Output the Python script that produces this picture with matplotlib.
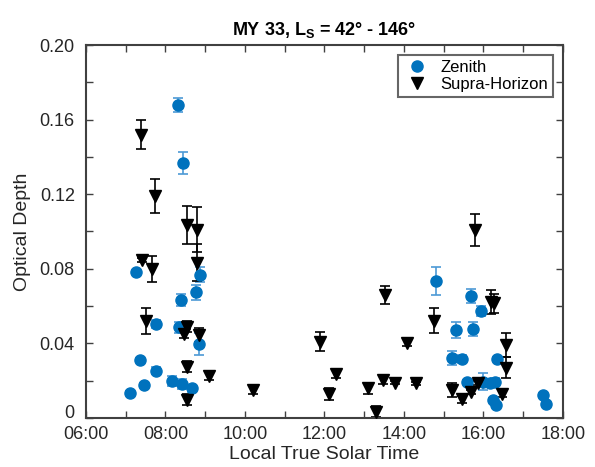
import matplotlib
matplotlib.use("Agg")
from matplotlib import pyplot as plt
from matplotlib.transforms import ScaledTranslation

plt.rcParams['font.family'] = ['Liberation Sans', 'DejaVu Sans']
plt.rcParams['mathtext.fontset'] = 'custom'
plt.rcParams['mathtext.rm'] = 'Liberation Sans'
plt.rcParams['mathtext.bf'] = 'Liberation Sans:bold'

# Zenith observations: local true solar time (hours), optical depth, uncertainty
zen_time = [7.11, 7.25, 7.36, 7.47, 7.75, 7.75, 8.16, 8.32, 8.34, 8.38, 8.41,
            8.43, 8.68, 8.77, 8.85, 8.87, 14.82, 15.20, 15.31, 15.47, 15.59,
            15.69, 15.74, 15.95, 15.99, 16.16, 16.23, 16.29, 16.31, 16.33,
            17.50, 17.57]
zen_od = [0.0136, 0.0785, 0.031, 0.0177, 0.0504, 0.0254, 0.0198, 0.168,
          0.0486, 0.0633, 0.018, 0.1366, 0.0159, 0.0674, 0.0397, 0.0767,
          0.0736, 0.0323, 0.0472, 0.0315, 0.0195, 0.0656, 0.0477, 0.0575,
          0.0195, 0.019, 0.0097, 0.0195, 0.007, 0.0315, 0.0123, 0.0075]
zen_err = [0.001, 0.001, 0.001, 0.001, 0.002, 0.002, 0.0027, 0.0038, 0.003,
           0.0032, 0.0027, 0.006, 0.002, 0.004, 0.006, 0.004, 0.0075, 0.0037,
           0.0044, 0.002, 0.001, 0.0038, 0.0037, 0.0027, 0.0047, 0.002,
           0.001, 0.002, 0.001, 0.001, 0.001, 0.001]

# Supra-horizon observations
sh_time = [7.38, 7.42, 7.50, 7.67, 7.74, 8.47, 8.53, 8.53, 8.53, 8.55, 8.79,
           8.80, 8.85, 9.10, 10.21, 11.89, 12.12, 12.30, 13.10, 13.31, 13.48,
           13.52, 13.77, 14.07, 14.30, 14.75, 15.20, 15.47, 15.70, 15.79,
           15.87, 16.20, 16.27, 16.47, 16.58, 16.58]
sh_od = [0.152, 0.0847, 0.0522, 0.0797, 0.119, 0.0449, 0.049, 0.0275, 0.0097,
         0.1035, 0.101, 0.0833, 0.0445, 0.0225, 0.015, 0.041, 0.0129, 0.0236,
         0.0159, 0.0034, 0.0204, 0.066, 0.019, 0.0404, 0.0185, 0.0522,
         0.0152, 0.010, 0.014, 0.1008, 0.0186, 0.062, 0.0615, 0.013, 0.039,
         0.027]
sh_err = [0.008, 0.001, 0.007, 0.007, 0.009, 0.002, 0.003, 0.003, 0.003,
          0.010, 0.012, 0.010, 0.004, 0.002, 0.002, 0.005, 0.003, 0.002,
          0.003, 0.003, 0.002, 0.005, 0.001, 0.002, 0.001, 0.0066, 0.0037,
          0.002, 0.001, 0.0087, 0.001, 0.0065, 0.005, 0.002, 0.0065, 0.0058]

blue = '#0072BD'
ebar_blue = '#4d9ad6'
axcol = '#404040'

fig = plt.figure(figsize=(5.95, 4.67), dpi=100)
ax = fig.add_axes([0.1445, 0.105, 0.8015, 0.7986])

ax.errorbar(zen_time, zen_od, yerr=zen_err, fmt='none', ecolor=ebar_blue,
            elinewidth=1.2, capsize=3.5, capthick=1.2, zorder=2)
ax.errorbar(sh_time, sh_od, yerr=sh_err, fmt='none', ecolor='black',
            elinewidth=1.2, capsize=3.5, capthick=1.2, zorder=2)
ax.plot(zen_time, zen_od, 'o', color=blue, ms=8, mec=blue,
        label='Zenith', zorder=3)
ax.plot(sh_time, sh_od, 'v', color='black', ms=9, label='Supra-Horizon',
        zorder=3)

ax.set_xlim(6, 18)
ax.set_ylim(0, 0.2)

xt = list(range(6, 19))
ax.set_xticks(xt)
ax.set_xticklabels(['%02d:00' % h if h % 2 == 0 else '' for h in xt])
yt = [i * 0.02 for i in range(11)]
ylabs = []
for i, v in enumerate(yt):
    if i == 0:
        ylabs.append('0')
    elif i % 2 == 0:
        ylabs.append('%.2f' % v)
    else:
        ylabs.append('')
ax.set_yticks(yt)
ax.set_yticklabels(ylabs)

ax.tick_params(direction='in', length=5, width=1, colors=axcol,
               labelcolor='#262626', labelsize=13, top=True, right=True)
ax.tick_params(axis='x', pad=6)
ax.tick_params(axis='y', pad=8)
for s in ax.spines.values():
    s.set_color(axcol)
    s.set_linewidth(1.5)

# lift the "0" label a little so it clears the 06:00 label, as in the original
zero_lab = ax.get_yticklabels()[0]
zero_lab.set_transform(zero_lab.get_transform() +
                       ScaledTranslation(0, 5 / 72, fig.dpi_scale_trans))

ax.set_xlabel('Local True Solar Time', fontsize=14, color='#262626',
              labelpad=2)
ax.set_ylabel('Optical Depth', fontsize=14, color='#262626', labelpad=6)
ax.set_title(r'MY 33, L$_\mathbf{S}$ = 42° - 146°', fontsize=13,
             fontweight='bold', pad=7)

leg = ax.legend(loc='upper right', fontsize=12, frameon=True, fancybox=False,
                borderpad=0.3, handletextpad=0.6, handlelength=1.6,
                labelspacing=0.1, borderaxespad=0.6)
leg.get_frame().set_edgecolor(axcol)
leg.get_frame().set_linewidth(1.5)

fig.savefig('out.png', dpi=100)
